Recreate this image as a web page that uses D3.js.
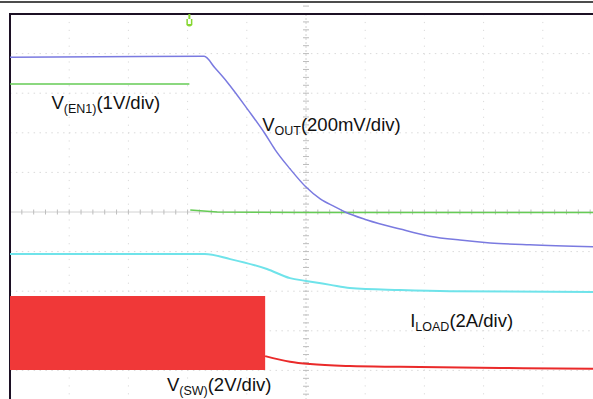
<!DOCTYPE html>
<html>
<head>
<meta charset="utf-8">
<script src="https://cdn.jsdelivr.net/npm/d3@7/dist/d3.min.js"></script>
<style>
  html, body { margin: 0; padding: 0; background: #fff; }
  svg { display: block; font-family: "Liberation Sans", Arial, sans-serif; }
</style>
</head>
<body>
<svg id="chart" width="593" height="399"></svg>
<script>
// ---- Data (time and amplitude in scope divisions; centre of screen = 0) ----
const gridDivs = [-5, -4, -3, -2, -1, 0, 1, 2, 3, 4, 5];

// V(OUT) 200mV/div
const voutT = [-5, -3.5, -1.72, -1.54, -1.32, -0.98, -0.69, -0.52, -0.27, 0, 0.24, 0.49, 0.66, 1.03, 1.59, 2.09, 2.60, 3.11, 3.78, 4.85];
const voutV = [3.91, 3.92, 3.93, 3.64, 3.26, 2.58, 1.97, 1.57, 1.09, 0.63, 0.33, 0.13, 0.0, -0.20, -0.43, -0.61, -0.71, -0.78, -0.83, -0.88];

// V(EN1) 1V/div  (null = fast edge, not visible on the scope)
const enT = [-5, -1.97, null, -1.955, -1.5, 0, 4.85];
const enV = [3.23, 3.23, null, 0.05, 0.0, -0.01, -0.01];

// I(LOAD) 2A/div
const iloadT = [-5, -1.71, -1.28, -0.66, -0.27, 0, 0.41, 0.74, 1.59, 2.43, 4.85];
const iloadV = [-1.06, -1.06, -1.19, -1.44, -1.67, -1.74, -1.84, -1.92, -1.97, -2.0, -2.02];

// V(SW) 2V/div : switching envelope, then decay after switching stops
const swBandT = [-5, -0.69];
const swHigh = [-2.12, -2.12];
const swLow = [-3.99, -3.99];
const swTailT = [-0.69, -0.27, 0.07, 0.74, 1.59, 3.28, 4.85];
const swTailV = [-3.64, -3.78, -3.84, -3.89, -3.91, -3.94, -3.96];

const triggerT = -1.97;

const labels = [
  { main: "V", sub: "(EN1)", rest: "(1V/div)", t: -4.3, v: 2.6 },
  { main: "V", sub: "OUT", rest: "(200mV/div)", t: -0.74, v: 2.04 },
  { main: "I", sub: "LOAD", rest: "(2A/div)", t: 1.76, v: -2.91 },
  { main: "V", sub: "(SW)", rest: "(2V/div)", t: -2.35, v: -4.53 }
];

// ---- Chart ----
const svg = d3.select("#chart");
const x = d3.scaleLinear().domain([-5, 5]).range([10, 602]);
const y = d3.scaleLinear().domain([5, -5]).range([14, 410]);

// top rule
svg.append("line").attr("x1", 0).attr("x2", 593).attr("y1", 2).attr("y2", 2)
  .attr("stroke", "#111").attr("stroke-width", 1.5);

// dotted grid
const grid = svg.append("g");
gridDivs.forEach(d => {
  if (d === 0) return;
  grid.append("line").attr("x1", x(d)).attr("x2", x(d)).attr("y1", y(5)).attr("y2", y(-5))
    .attr("stroke", "#dadada").attr("stroke-width", 1).attr("stroke-dasharray", "1.2,6.7");
  grid.append("line").attr("x1", x(-5)).attr("x2", x(5)).attr("y1", y(d)).attr("y2", y(d))
    .attr("stroke", "#dadada").attr("stroke-width", 1).attr("stroke-dasharray", "1.5,4.4");
});

// centre axes with minor ticks
const axG = svg.append("g");
axG.append("line").attr("x1", x(0)).attr("x2", x(0)).attr("y1", y(5)).attr("y2", y(-5))
  .attr("stroke", "#d2d2d2").attr("stroke-width", 1).attr("stroke-dasharray", "2,2");
axG.append("line").attr("x1", x(-5)).attr("x2", x(5)).attr("y1", y(0)).attr("y2", y(0))
  .attr("stroke", "#d2d2d2").attr("stroke-width", 1);
const minorX = d3.range(-50, 51).map(i => i / 5);
const minorY = d3.range(-50, 51).map(i => i / 5);
axG.selectAll(".mx").data(minorX).join("line")
  .attr("x1", d => x(d)).attr("x2", d => x(d))
  .attr("y1", y(0) - 2.5).attr("y2", y(0) + 2.5)
  .attr("stroke", "#bdbdbd").attr("stroke-width", 1);
axG.selectAll(".my").data(minorY).join("line")
  .attr("x1", x(0) - 3).attr("x2", x(0) + 3)
  .attr("y1", d => y(d)).attr("y2", d => y(d))
  .attr("stroke", "#bdbdbd").attr("stroke-width", 1);

// border (top & left)
svg.append("path")
  .attr("d", `M${x(-5)},399 L${x(-5)},${y(5)} L593,${y(5)}`)
  .attr("fill", "none").attr("stroke", "#1c1024").attr("stroke-width", 2);

const zip = (a, b) => a.map((v, i) => [v, b[i]]);

// V(SW) band
const area = d3.area().x(d => x(d.t)).y0(d => y(d.lo)).y1(d => y(d.hi));
svg.append("path")
  .datum(swBandT.map((t, i) => ({ t, hi: swHigh[i], lo: swLow[i] })))
  .attr("d", area).attr("fill", "#f03838");
svg.append("path").datum(zip(swTailT, swTailV))
  .attr("d", d3.line().x(d => x(d[0])).y(d => y(d[1])).curve(d3.curveMonotoneX))
  .attr("fill", "none").attr("stroke", "#ea2a2a").attr("stroke-width", 2);

// I(LOAD)
svg.append("path").datum(zip(iloadT, iloadV))
  .attr("d", d3.line().x(d => x(d[0])).y(d => y(d[1])).curve(d3.curveMonotoneX))
  .attr("fill", "none").attr("stroke", "#6fe3ea").attr("stroke-width", 2);

// V(EN1)
svg.append("path").datum(zip(enT, enV))
  .attr("d", d3.line().defined(d => d[0] !== null).x(d => x(d[0])).y(d => y(d[1])))
  .attr("fill", "none").attr("stroke", "#66cc55").attr("stroke-width", 1.5);

// V(OUT)
svg.append("path").datum(zip(voutT, voutV))
  .attr("d", d3.line().x(d => x(d[0])).y(d => y(d[1])).curve(d3.curveMonotoneX))
  .attr("fill", "none").attr("stroke", "#7a7ae0").attr("stroke-width", 1.5);

// trigger marker
const tx = x(triggerT);
const tg = svg.append("g").attr("fill", "#86d630");
tg.append("rect").attr("x", tx - 1).attr("y", 14).attr("width", 2).attr("height", 5);
tg.append("path").attr("d", `M${tx - 3},19 L${tx - 3},25 Q${tx},28 ${tx + 3},25 L${tx + 3},19 L${tx + 1.5},19 L${tx + 1.5},24 L${tx - 1.5},24 L${tx - 1.5},19 Z`);

// labels
labels.forEach(l => {
  const t = svg.append("text").attr("x", x(l.t)).attr("y", y(l.v))
    .attr("font-size", 18.5).attr("fill", "#111");
  t.append("tspan").text(l.main);
  t.append("tspan").text(l.sub).attr("font-size", 12.5).attr("dy", 4);
  t.append("tspan").text(l.rest).attr("dy", -4);
});
</script>
</body>
</html>
